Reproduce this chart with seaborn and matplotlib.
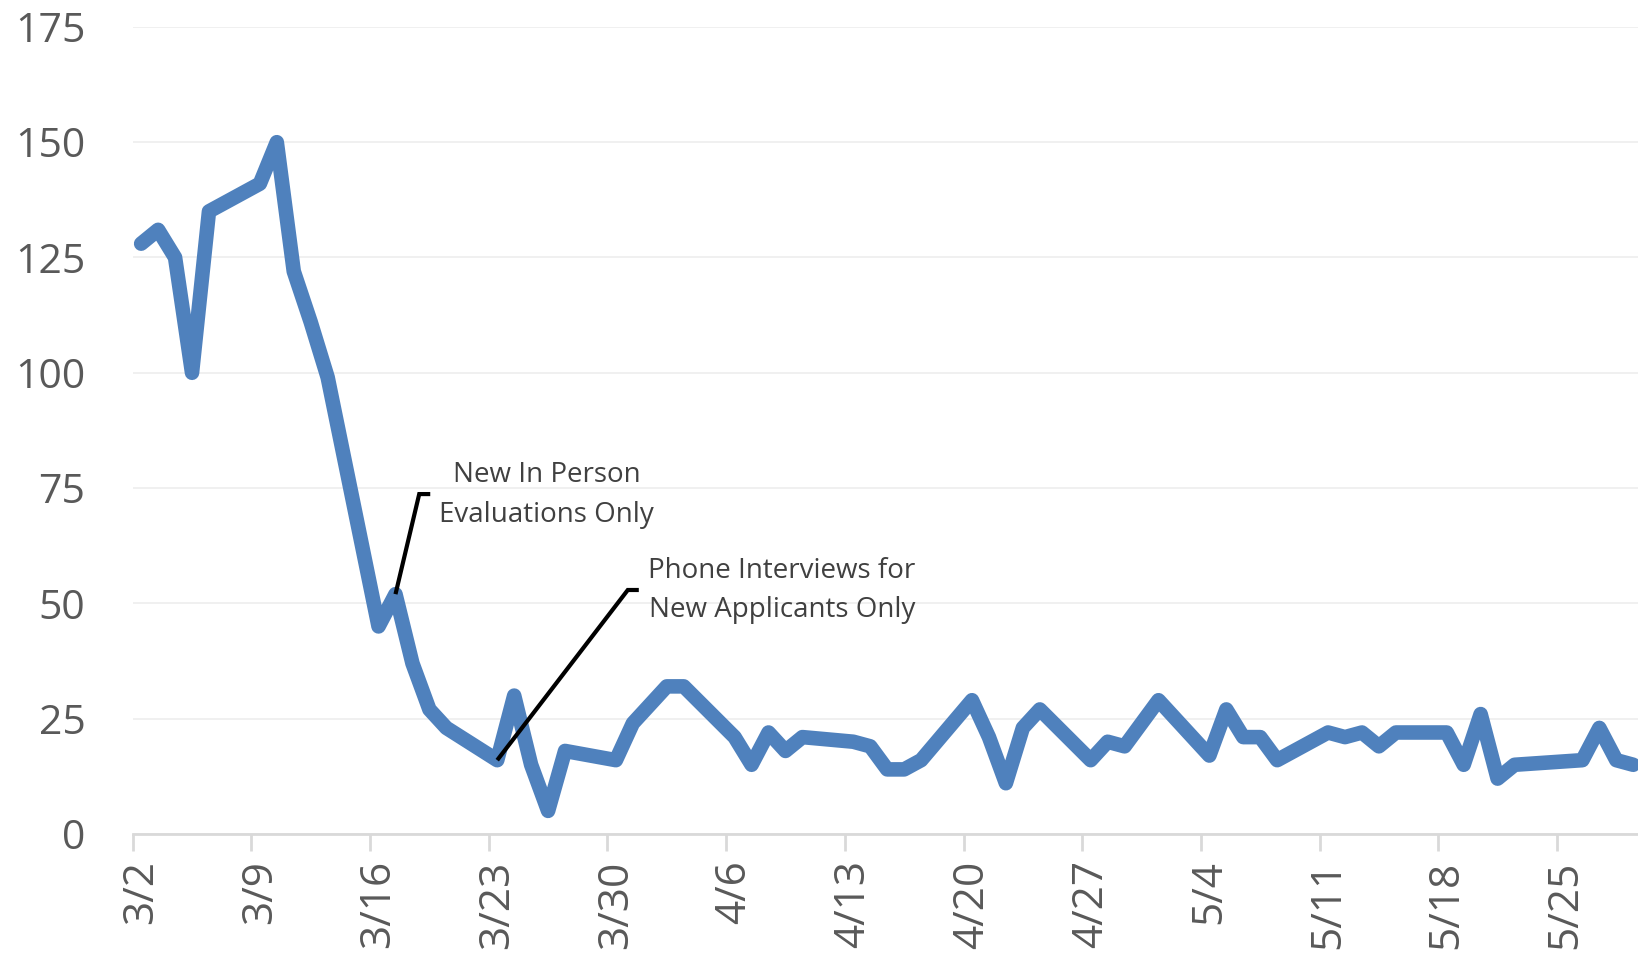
import pandas as pd
import matplotlib.pyplot as plt
import seaborn as sns

# daily counts (weekdays only, 2020)
dates = ["3/2", "3/3", "3/4", "3/5", "3/6", "3/9", "3/10", "3/11", "3/12", "3/13",
         "3/16", "3/17", "3/18", "3/19", "3/20", "3/23", "3/24", "3/25", "3/26", "3/27",
         "3/30", "3/31", "4/1", "4/2", "4/3", "4/6", "4/7", "4/8", "4/9", "4/10",
         "4/13", "4/14", "4/15", "4/16", "4/17", "4/20", "4/21", "4/22", "4/23", "4/24",
         "4/27", "4/28", "4/29", "4/30", "5/1", "5/4", "5/5", "5/6", "5/7", "5/8",
         "5/11", "5/12", "5/13", "5/14", "5/15", "5/18", "5/19", "5/20", "5/21", "5/22",
         "5/26", "5/27", "5/28", "5/29"]
counts = [128, 131, 125, 100, 135, 141, 150, 122, 111, 99,
          45, 52, 37, 27, 23, 16, 30, 15, 5, 18,
          16, 24, 28, 32, 32, 21, 15, 22, 18, 21,
          20, 19, 14, 14, 16, 29, 21, 11, 23, 27,
          16, 20, 19, 24, 29, 17, 27, 21, 21, 16,
          22, 21, 22, 19, 22, 22, 15, 26, 12, 15,
          16, 23, 16, 15]
tick_dates = ["3/2", "3/9", "3/16", "3/23", "3/30", "4/6", "4/13",
              "4/20", "4/27", "5/4", "5/11", "5/18", "5/25"]
y_ticks = [0, 25, 50, 75, 100, 125, 150, 175]

note_dates = ["3/17", "3/23"]
note_texts = ["New In Person\nEvaluations Only", "Phone Interviews for\nNew Applicants Only"]


def to_day(lst, start):
    d = pd.to_datetime([s + "/2020" for s in lst], format="%m/%d/%Y")
    return (d - start).days.values


start = pd.Timestamp("2020-03-02")
df = pd.DataFrame({"day": to_day(dates, start), "count": counts})

sns.set_style("white")
plt.rcParams['font.family'] = ['Open Sans', 'DejaVu Sans']

fig = plt.figure(figsize=(16.38, 9.61), dpi=100)
ax = fig.add_axes([0.081, 0.1322, 0.919, 0.8398])

sns.lineplot(data=df, x="day", y="count", ax=ax, color="#4F81BD", linewidth=10.5,
             solid_joinstyle="round", solid_capstyle="round")

ax.set_xlim(-0.5, 88.28)
ax.set_ylim(0, 175)

# ticks on day boundaries, labels centered on the day
tx = to_day(tick_dates, start)
ax.set_xticks(tx - 0.5)
ax.set_xticklabels([])
ax.set_xticks(tx, minor=True)
ax.set_xticklabels(tick_dates, minor=True, rotation=90, fontsize=30.5, color="#595959")
ax.tick_params(axis="x", which="major", length=12, width=2, color="#D9D9D9", direction="out", bottom=True)
ax.tick_params(axis="x", which="minor", length=0, pad=19, bottom=True)

ax.set_yticks(y_ticks)
ax.set_yticklabels([str(v) for v in y_ticks], fontsize=29.5, color="#595959")
ax.tick_params(axis="y", length=0, pad=34)

ax.grid(axis="y", color="#EFEFEF", linewidth=1.3)
ax.set_axisbelow(True)
for s in ["left", "right", "top"]:
    ax.spines[s].set_visible(False)
ax.spines["bottom"].set_color("#D9D9D9")
ax.spines["bottom"].set_linewidth(2)
ax.set_xlabel("")
ax.set_ylabel("")

# callouts
nd = to_day(note_dates, start)
ny = [df.loc[df["day"] == d, "count"].iloc[0] for d in nd]
elbows = [(1.4, 21.7), (7.7, 36.9)]
text_pos = [(23.9, 73.5), (37.8, 52.8)]
for i in range(2):
    x0, y0 = nd[i], ny[i]
    ex, ey = x0 + elbows[i][0], y0 + elbows[i][1]
    ax.plot([x0, ex, ex + 0.65], [y0, ey, ey], color="black", linewidth=3,
            solid_joinstyle="miter", solid_capstyle="butt")
    ax.text(text_pos[i][0], text_pos[i][1], note_texts[i], fontsize=20, color="#404040",
            ha="center", va="center", linespacing=1.55)

fig.savefig("out.png", dpi=100)
